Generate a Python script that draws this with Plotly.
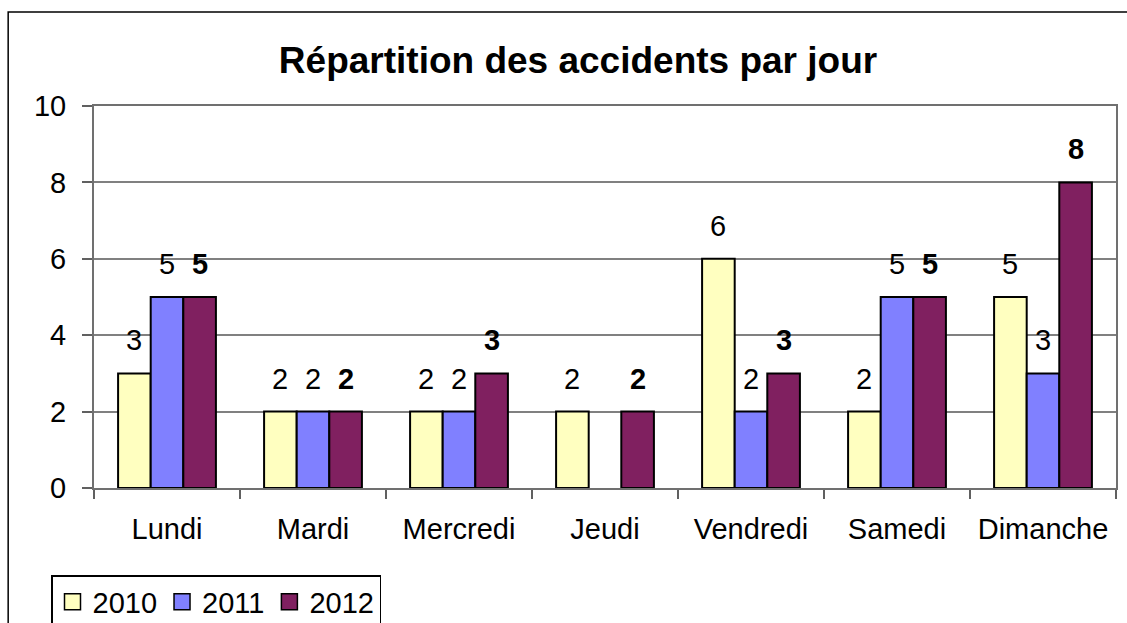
import plotly.graph_objects as go

categories = ["Lundi", "Mardi", "Mercredi", "Jeudi", "Vendredi", "Samedi", "Dimanche"]
series_names = ["2010", "2011", "2012"]
values_2010 = [3, 2, 2, 2, 6, 2, 5]
values_2011 = [5, 2, 2, 0, 2, 5, 3]
values_2012 = [5, 2, 3, 2, 3, 5, 8]
y_ticks = [0, 2, 4, 6, 8, 10]

colors = ["#FFFFC0", "#8080FF", "#802060"]
label_bold = [False, False, True]
all_values = [values_2010, values_2011, values_2012]

W, H = 1127, 623
ML, MR, MT, MB = 94, 9, 106, 135
BARGAP = 0.33
FONT = "Liberation Sans, Arial, sans-serif"

fig = go.Figure()
for name, vals, col in zip(series_names, all_values, colors):
    fig.add_trace(go.Bar(
        x=categories, y=vals, name=name, showlegend=False,
        marker=dict(color=col,
                    line=dict(color="#000000", width=[2 if v else 0 for v in vals])),
    ))
# legend entries with larger square swatches
for name, col in zip(series_names, colors):
    fig.add_trace(go.Scatter(
        x=[None], y=[None], mode="markers", name=name,
        marker=dict(symbol="square", size=16, color=col,
                    line=dict(color="#000000", width=1.5)),
    ))

plot_w = W - ML - MR
plot_h = H - MT - MB
cat_w = plot_w / len(categories)
bar_w = cat_w * (1 - BARGAP) / len(series_names)

annotations = []
for i, (vals, bold) in enumerate(zip(all_values, label_bold)):
    for c, v in zip(categories, vals):
        if v == 0:
            continue
        txt = f"<b>{v}</b>" if bold else str(v)
        annotations.append(dict(
            x=c, y=v, xref="x", yref="y", text=txt, showarrow=False,
            xshift=(i - 1) * bar_w, yshift=33, yanchor="middle",
            font=dict(family=FONT, size=29, color="#000000"),
        ))

def px_x(p):
    return (p - ML) / plot_w

def px_y(p):
    return (H - MB - p) / plot_h

shapes = [dict(
    type="rect", xref="paper", yref="paper",
    x0=px_x(8), x1=px_x(1145), y0=px_y(12), y1=px_y(640),
    line=dict(color="#000000", width=1.5), fillcolor="rgba(0,0,0,0)", layer="below",
)]

fig.update_layout(
    width=W, height=H,
    margin=dict(l=ML, r=MR, t=MT, b=MB, pad=0),
    paper_bgcolor="#FFFFFF", plot_bgcolor="#FFFFFF",
    barmode="group", bargap=BARGAP, bargroupgap=0,
    title=dict(text="<b>Répartition des accidents par jour</b>",
               x=578 / W, xanchor="center", y=1 - 60 / H, yanchor="middle",
               font=dict(family=FONT, size=37, color="#000000")),
    font=dict(family=FONT, color="#000000"),
    xaxis=dict(
        type="category", tickson="boundaries", ticks="outside", ticklen=9,
        tickwidth=1.5, tickcolor="#606060",
        showline=True, linecolor="#707070", linewidth=2, mirror=True,
        tickfont=dict(family=FONT, size=29, color="#000000"),
        ticklabelstandoff=14, showgrid=False,
    ),
    yaxis=dict(
        range=[0, 10], tickvals=y_ticks, ticks="outside", ticklen=10,
        tickwidth=1.5, tickcolor="#606060",
        showline=True, linecolor="#707070", linewidth=2, mirror=True,
        showgrid=True, gridcolor="#808080", gridwidth=2,
        tickfont=dict(family=FONT, size=29, color="#000000"),
        ticklabelstandoff=10, zeroline=False,
    ),
    legend=dict(
        orientation="h", xref="container", yref="container",
        x=51 / W, y=1 - 575 / H, xanchor="left", yanchor="top",
        bordercolor="#000000", borderwidth=1.5, bgcolor="#FFFFFF",
        font=dict(family=FONT, size=29, color="#000000"),
        itemwidth=30, traceorder="normal",
    ),
    annotations=annotations,
    shapes=shapes,
)

fig.write_html("out.html", config={"displayModeBar": False},
               post_script="document.body.style.margin='0';document.body.style.overflow='hidden';")
